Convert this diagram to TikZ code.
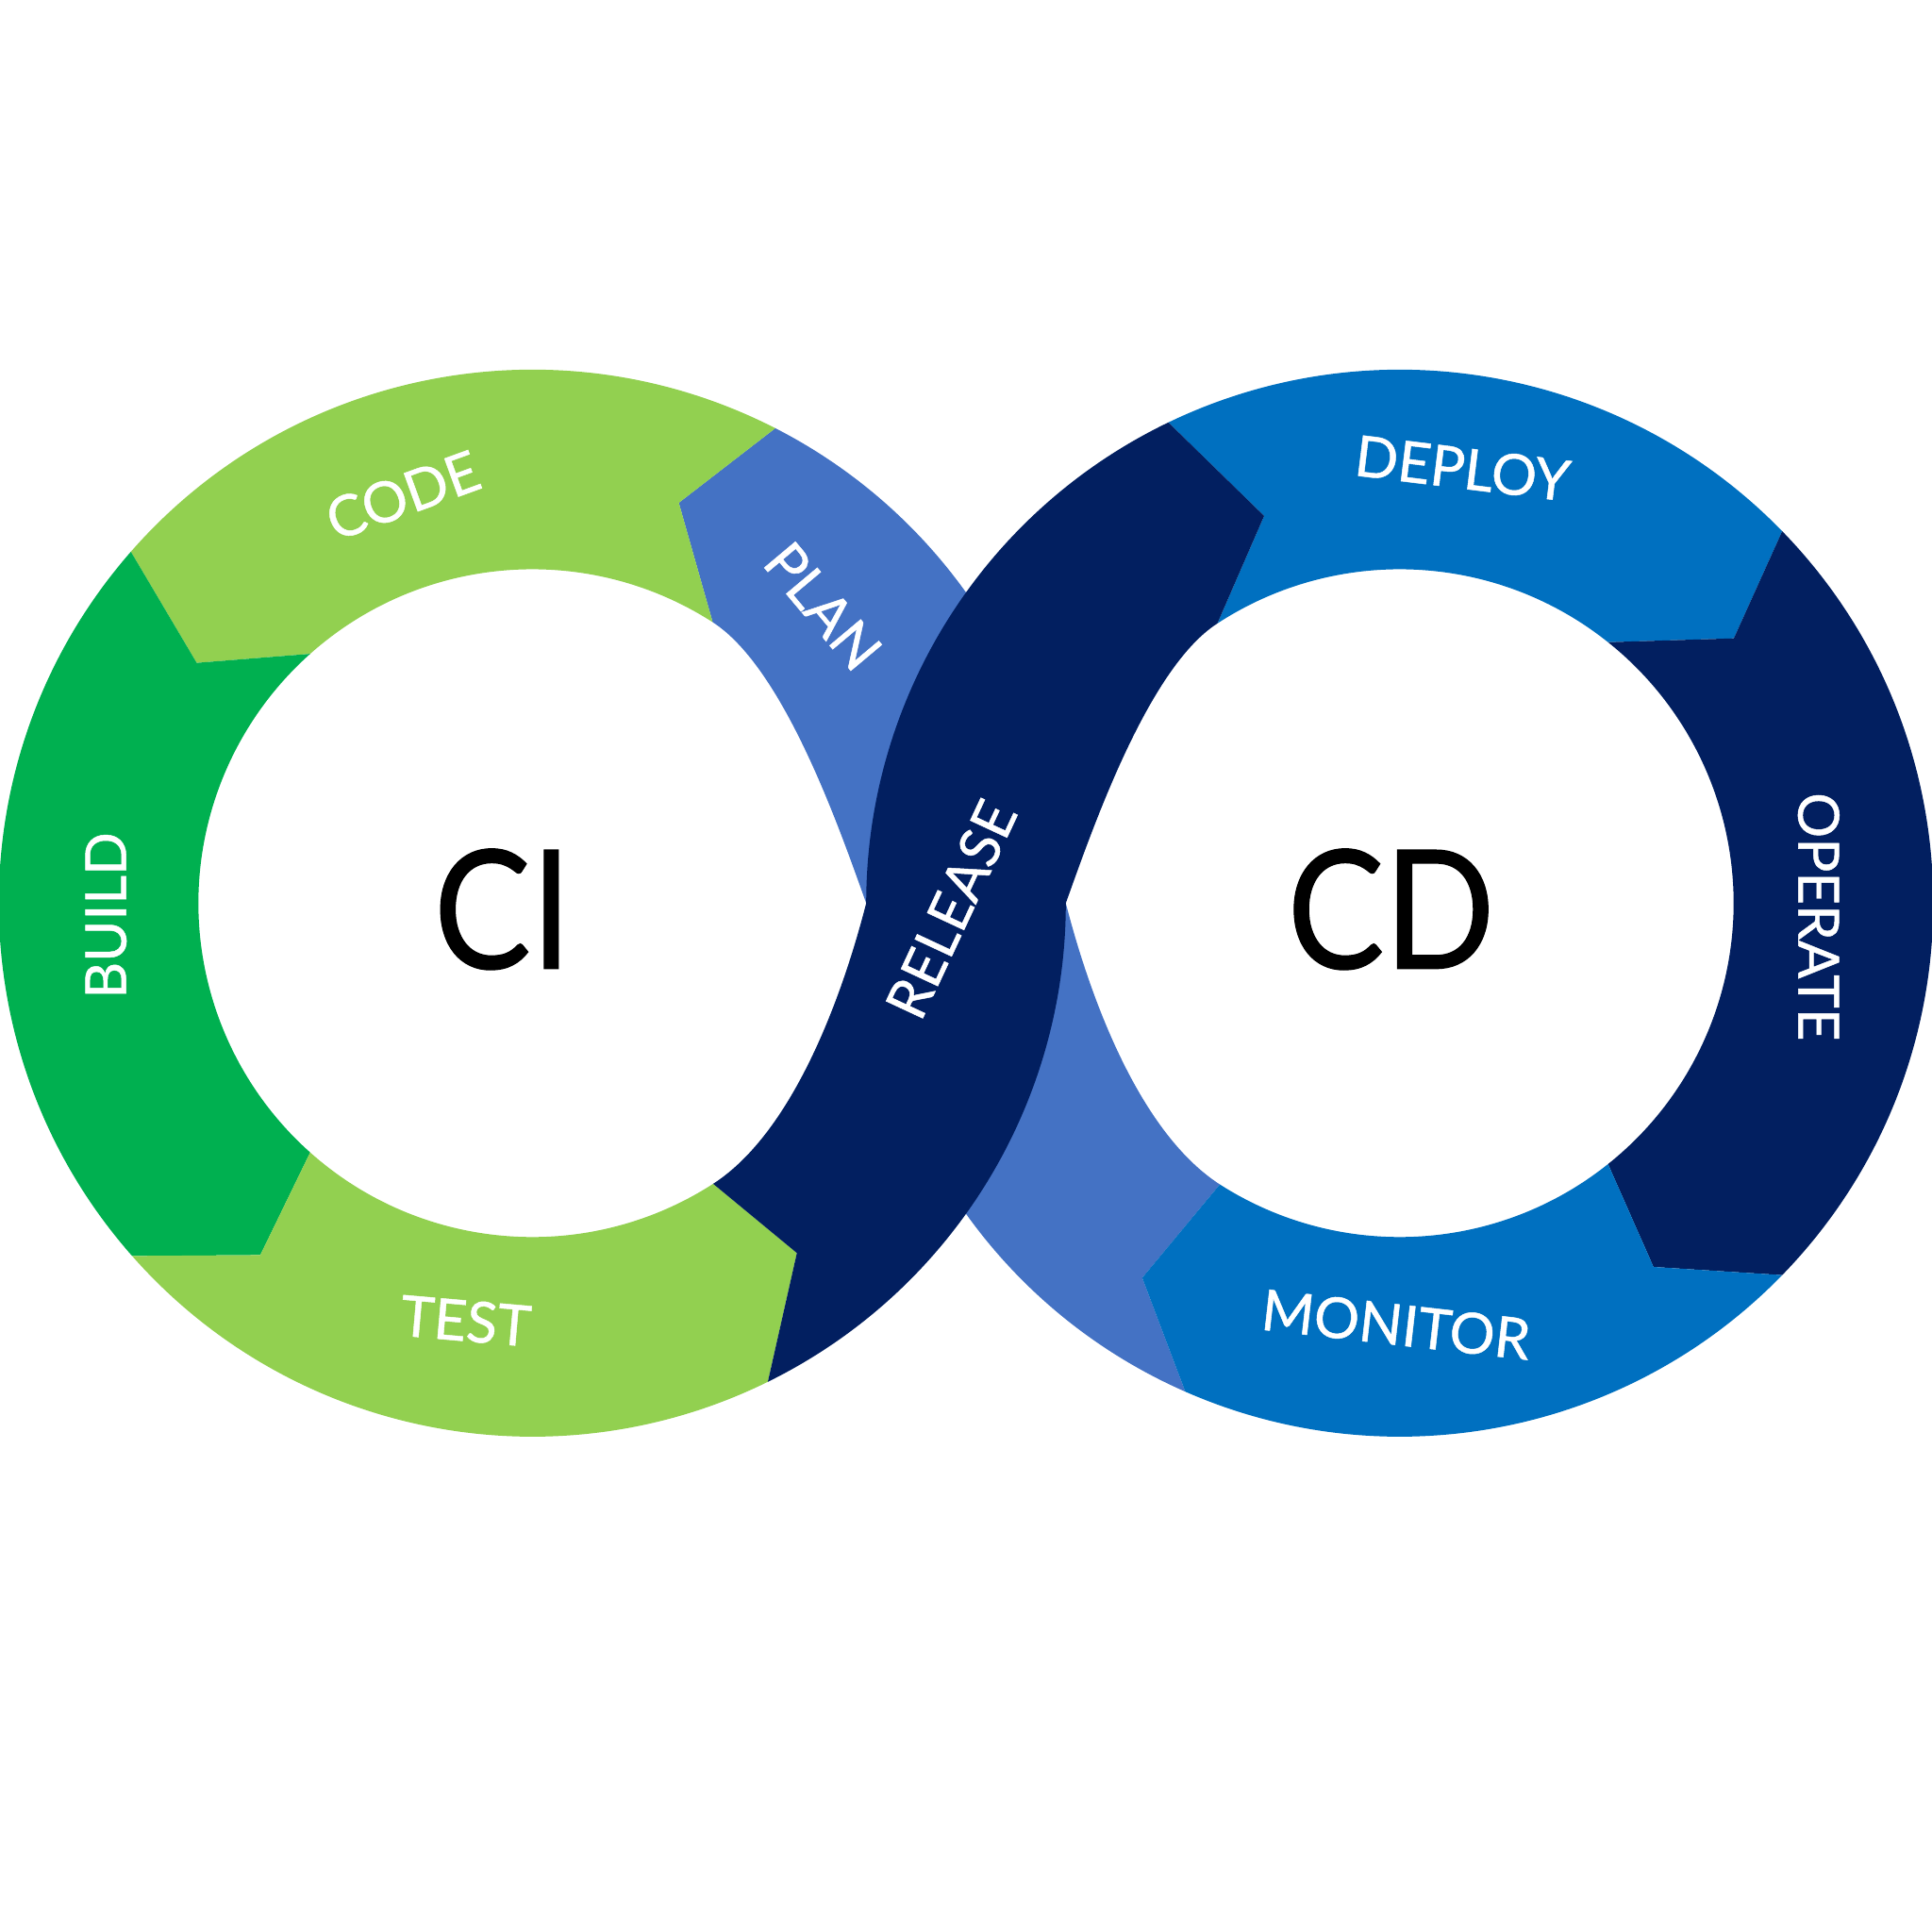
\documentclass[tikz,border=0pt]{standalone}
\usepackage{fontspec}
\setmainfont{Lato}
\newfontfamily\lblfont{Lato}[FakeBold=0.8]
\definecolor{lgreen}{HTML}{92D050}
\definecolor{dgreen}{HTML}{00B050}
\definecolor{planblue}{HTML}{4472C4}
\definecolor{navyblue}{HTML}{021F60}
\definecolor{midblue}{HTML}{0070C0}
\tikzset{
  lbl/.style={text=white, font=\lblfont\fontsize{46}{46}\selectfont, inner sep=0pt},
  big/.style={text=black, font=\lblfont\fontsize{134}{134}\selectfont, inner sep=0pt, xscale=0.88}
}
\begin{document}
\begin{tikzpicture}[x=1pt,y=1pt]
\useasboundingbox (0,0) rectangle (1568,1568);
\fill[white] (0,0) rectangle (1568,1568);
\coordinate (L) at (432,835);
\coordinate (R) at (1136,835);
% PLAN (under release)
\fill[planblue] ([shift={(62.9:433)}]L) arc[start angle=62.9,end angle=0,radius=433pt]
  .. controls (882.5,766.6) and (921.9,650.7) .. ([shift={(237.4:271)}]R)
  -- ([shift={(235.5:369)}]R) -- ([shift={(246.3:433)}]R)
  arc[start angle=246.3,end angle=180,radius=433pt]
  .. controls (682.8,891) and (637.2,1025.3) .. ([shift={(57.3:271)}]L)
  -- ([shift={(69.9:346)}]L) -- cycle;
% CODE
\fill[lgreen] ([shift={(62.9:433)}]L) arc[start angle=62.9,end angle=138.8,radius=433pt]
  -- ([shift={(144.4:335)}]L) -- ([shift={(131.7:271)}]L)
  arc[start angle=131.7,end angle=57.3,radius=271pt]
  -- ([shift={(69.9:346)}]L) -- cycle;
% BUILD
\fill[dgreen] ([shift={(138.8:433)}]L) arc[start angle=138.8,end angle=221.4,radius=433pt]
  -- ([shift={(232.3:361)}]L) -- ([shift={(228.3:271)}]L)
  arc[start angle=228.3,end angle=131.7,radius=271pt]
  -- ([shift={(144.4:335)}]L) -- cycle;
% TEST
\fill[lgreen] ([shift={(221.4:433)}]L) arc[start angle=221.4,end angle=296.2,radius=433pt]
  -- ([shift={(307.1:356)}]L) -- ([shift={(302.8:271)}]L)
  arc[start angle=302.8,end angle=228.3,radius=271pt]
  -- ([shift={(232.3:361)}]L) -- cycle;
% DEPLOY
\fill[midblue] ([shift={(115.7:433)}]R) arc[start angle=115.7,end angle=44.2,radius=433pt]
  -- ([shift={(38.4:346)}]R) -- ([shift={(51.4:271)}]R)
  arc[start angle=51.4,end angle=123.1,radius=271pt]
  -- ([shift={(109.3:333)}]R) -- cycle;
% OPERATE
\fill[navyblue] ([shift={(44.2:433)}]R) arc[start angle=44.2,end angle=-44.2,radius=433pt]
  -- ([shift={(-55.1:360)}]R) -- ([shift={(-51.4:271)}]R)
  arc[start angle=-51.4,end angle=51.4,radius=271pt]
  -- ([shift={(38.4:346)}]R) -- cycle;
% MONITOR
\fill[midblue] ([shift={(-44.2:433)}]R) arc[start angle=-44.2,end angle=-113.7,radius=433pt]
  -- ([shift={(-124.5:369)}]R) -- ([shift={(-122.6:271)}]R)
  arc[start angle=-122.6,end angle=-51.4,radius=271pt]
  -- ([shift={(-55.1:360)}]R) -- cycle;
% RELEASE (on top)
\fill[navyblue] ([shift={(296.2:433)}]L) arc[start angle=296.2,end angle=360,radius=433pt]
  .. controls (885.2,891) and (930.8,1025.3) .. ([shift={(123.1:271)}]R)
  -- ([shift={(109.3:333)}]R) -- ([shift={(115.7:433)}]R)
  arc[start angle=115.7,end angle=180,radius=433pt]
  .. controls (685.5,766.6) and (646.1,650.7) .. ([shift={(302.8:271)}]L)
  -- ([shift={(307.1:356)}]L) -- cycle;
% labels
\node[lbl, rotate=20]  (code)    at (327,1166) {CODE};
\node[lbl, rotate=-50] (plan)    at (668,1076) {PLAN};
\node[lbl, rotate=90]  (build)   at (86,825)   {BUILD};
\node[lbl, rotate=-5]  (test)    at (378,496)  {TEST};
\node[lbl, rotate=65]  (release) at (772,830)  {RELEASE};
\node[lbl, rotate=-7]  (deploy)  at (1187,1188){DEPLOY};
\node[lbl, rotate=-6.5] (monitor) at (1133,493) {MONITOR};
\node[lbl, rotate=-90] (operate) at (1476,824) {OPERATE};
\node[big] (ci) at (408,830) {CI};
\node[big] (cd) at (1129,830) {CD};
\end{tikzpicture}
\end{document}
